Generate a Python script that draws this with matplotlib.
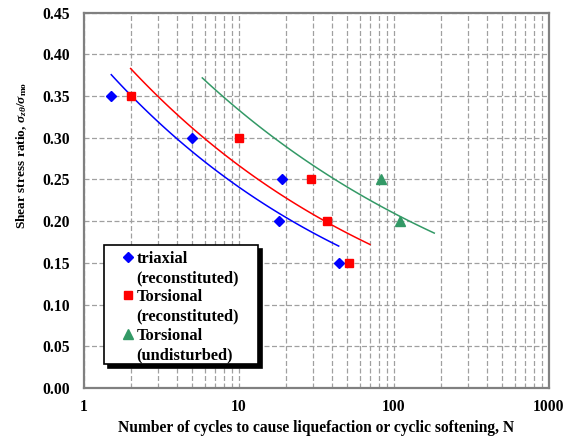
import numpy as np
import matplotlib
matplotlib.use("Agg")
import matplotlib.pyplot as plt
from matplotlib.lines import Line2D
from matplotlib.patches import Rectangle

plt.rcParams['font.family'] = ['Liberation Serif', 'DejaVu Serif']
plt.rcParams['font.weight'] = 'bold'
plt.rcParams['mathtext.fontset'] = 'custom'
plt.rcParams['mathtext.rm'] = 'Liberation Serif:bold'
plt.rcParams['mathtext.it'] = 'Liberation Serif:italic:bold'
plt.rcParams['mathtext.bf'] = 'Liberation Serif:bold'

# Data
tri_N = [1.5, 5, 19, 18, 44]
tri_ratio = [0.35, 0.30, 0.25, 0.20, 0.15]
tor_N = [2, 10, 29, 37, 51]
tor_ratio = [0.35, 0.30, 0.25, 0.20, 0.15]
und_N = [82, 109]
und_ratio = [0.25, 0.20]

# trend line ranges
tri_trend_range = [1.5, 44]
tor_trend_range = [2, 70]
# undisturbed trend curve points
und_trend_N = [5.8, 10, 20, 40, 80, 182]
und_trend_ratio = [0.374, 0.335, 0.286, 0.251, 0.219, 0.187]

xticks = [1, 10, 100, 1000]
yticks = [0.00, 0.05, 0.10, 0.15, 0.20, 0.25, 0.30, 0.35, 0.40, 0.45]

BLUE = '#0000FF'
RED = '#FF0000'
GREEN = '#339966'


def power_trend(xs, ys, rng):
    b, lna = np.polyfit(np.log(xs), np.log(ys), 1)
    xx = np.logspace(np.log10(rng[0]), np.log10(rng[1]), 100)
    return xx, np.exp(lna) * xx ** b


fig = plt.figure(figsize=(5.76, 4.43), dpi=100)
ax = fig.add_axes([0.1458, 0.1242, 0.8072, 0.8471])

ax.set_xscale('log')
ax.set_xlim(1, 1000)
ax.set_ylim(0, 0.45)

ax.grid(True, which='both', axis='x', color='#a0a0a0', linestyle=(0, (4, 2)), linewidth=0.9)
ax.grid(True, which='major', axis='y', color='#a0a0a0', linestyle=(0, (4, 2)), linewidth=0.9)
ax.set_axisbelow(True)

x, y = power_trend(tri_N, tri_ratio, tri_trend_range)
ax.plot(x, y, color=BLUE, lw=1.1)
x, y = power_trend(tor_N, tor_ratio, tor_trend_range)
ax.plot(x, y, color=RED, lw=1.1)
x, y = power_trend(und_trend_N, und_trend_ratio, [und_trend_N[0], und_trend_N[-1]])
ax.plot(x, y, color=GREEN, lw=1.1)

ax.plot(tri_N, tri_ratio, linestyle='none', marker='D', ms=5, color=BLUE, zorder=5)
ax.plot(tor_N, tor_ratio, linestyle='none', marker='s', ms=6.3, color=RED, zorder=5)
ax.plot(und_N, und_ratio, linestyle='none', marker='^', ms=6.5, color=GREEN, zorder=5)

ax.set_xticks(xticks)
ax.set_xticklabels([str(t) for t in xticks])
ax.set_yticks(yticks)
ax.set_yticklabels(['%.2f' % t for t in yticks])
ax.xaxis.set_minor_formatter(matplotlib.ticker.NullFormatter())
ax.tick_params(axis='both', which='both', length=0, labelsize=11.3)
ax.tick_params(axis='y', pad=10)
ax.tick_params(axis='x', pad=8)

for s in ax.spines.values():
    s.set_color('#808080')
    s.set_linewidth(1.6)

ax.set_xlabel('Number of cycles to cause liquefaction or cyclic softening, N', fontsize=11.2, fontweight='bold')
ax.set_ylabel(r'Shear stress ratio, $\sigma_{z\theta}/\sigma_{\mathrm{mo}}$', fontsize=9.6, fontweight='bold')
ax.xaxis.set_label_coords(0.5, -0.085)
ax.yaxis.set_label_coords(-0.118, 0.62)

# legend box with shadow
bx0, by0, bw, bh = 0.0437, 0.064, 0.3311, 0.317
ax.add_patch(Rectangle((bx0 + 0.0086, by0 - 0.0107), bw, bh, transform=ax.transAxes,
                       facecolor='black', edgecolor='black', lw=1.2, zorder=6, clip_on=False))
ax.add_patch(Rectangle((bx0, by0), bw, bh, transform=ax.transAxes,
                       facecolor='white', edgecolor='black', lw=1.2, zorder=6.5, clip_on=False))

blank = Line2D([], [], linestyle='none', marker=None)
handles = [
    Line2D([], [], linestyle='none', marker='D', ms=5, color=BLUE), blank,
    Line2D([], [], linestyle='none', marker='s', ms=6.3, color=RED), blank,
    Line2D([], [], linestyle='none', marker='^', ms=6.5, color=GREEN), blank,
]
labels = ['triaxial', '(reconstituted)', 'Torsional', '(reconstituted)', 'Torsional', '(undisturbed)']
leg = ax.legend(handles, labels, loc='upper left', bbox_to_anchor=(0.0776, 0.366),
                borderaxespad=0, borderpad=0, fontsize=11.8, frameon=False,
                handlelength=1.0, handletextpad=0.0, labelspacing=0.2)
leg.set_zorder(7)

fig.savefig('out.png', dpi=100)
